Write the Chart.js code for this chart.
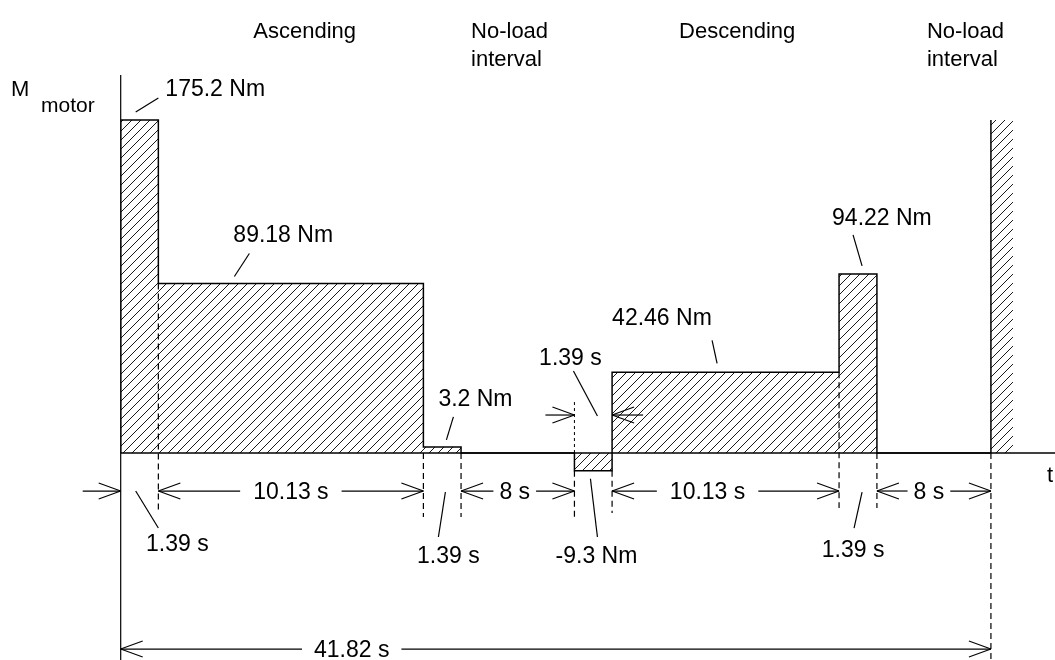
<!DOCTYPE html>
<html>
<head>
<meta charset="utf-8">
<script src="https://cdn.jsdelivr.net/npm/chart.js@4.4.1/dist/chart.umd.min.js"></script>
<style>
  html, body { margin: 0; padding: 0; background: #fff; }
  #wrap { width: 1055px; height: 660px; }
</style>
</head>
<body>
<div id="wrap"><canvas id="torqueChart"></canvas></div>
<script>
// Step edges on a schematic time axis (the drawing is not to scale)
const edges = [0, 1.81, 14.55, 16.36, 21.81, 23.62, 34.53, 36.35, 41.83];
// Motor torque in each interval (Nm)
const torque = [175.2, 89.18, 3.2, 0, -9.3, 42.46, 94.22, 0];
const torqueLabels = ['175.2 Nm', '89.18 Nm', '3.2 Nm', '', '-9.3 Nm', '42.46 Nm', '94.22 Nm', ''];
const durations = ['1.39 s', '10.13 s', '1.39 s', '8 s', '1.39 s', '10.13 s', '1.39 s', '8 s'];
const phases = ['Ascending', 'No-load interval', 'Descending', 'No-load interval'];
const cycleLabel = '41.82 s';
// start of the next cycle, cut at the right edge
const nextCycle = [41.83, 42.89];

const FONT = '23px "Liberation Sans", Arial, sans-serif';
const FONT_S = '22px "Liberation Sans", Arial, sans-serif';

const canvas = document.getElementById('torqueChart');

// diagonal hatch like the original drawing
const makeHatch = () => {
  const s = 9;
  const c = document.createElement('canvas');
  c.width = c.height = s;
  const g = c.getContext('2d');
  g.strokeStyle = '#1a1a1a';
  g.lineWidth = 1;
  g.beginPath();
  g.moveTo(-1, s + 1); g.lineTo(s + 1, -1);
  g.moveTo(-1, 1); g.lineTo(1, -1);
  g.moveTo(s - 1, s + 1); g.lineTo(s + 1, s - 1);
  g.stroke();
  return canvas.getContext('2d').createPattern(c, 'repeat');
};
const hatch = makeHatch();

// closed step outline for one cycle
const profile = [{ x: edges[0], y: 0 }];
torque.forEach((v, i) => profile.push({ x: edges[i], y: v }));
profile.push({ x: edges[edges.length - 1], y: 0 });

const repeat = [
  { x: nextCycle[0], y: 0 },
  { x: nextCycle[0], y: torque[0] },
  { x: nextCycle[1], y: torque[0] },
  { x: nextCycle[1], y: 0 }
];

// drawing helpers
const line = (ctx, x1, y1, x2, y2, dash = [], w = 1.2) => {
  ctx.save();
  ctx.setLineDash(dash);
  ctx.lineWidth = w;
  ctx.strokeStyle = '#000';
  ctx.beginPath();
  ctx.moveTo(x1, y1);
  ctx.lineTo(x2, y2);
  ctx.stroke();
  ctx.restore();
};
// open arrow head, dir = 1 points right, -1 points left
const head = (ctx, tx, ty, dir) => {
  line(ctx, tx - dir * 22, ty - 8, tx, ty);
  line(ctx, tx - dir * 22, ty + 8, tx, ty);
};
const text = (ctx, str, x, y, align = 'center', font = FONT) => {
  ctx.save();
  ctx.font = font;
  ctx.fillStyle = '#000';
  ctx.textAlign = align;
  ctx.textBaseline = 'alphabetic';
  ctx.fillText(str, x, y);
  ctx.restore();
};
// dimension line |<-- label -->|
const dim = (ctx, xa, xb, yy, label, cx, pad) => {
  ctx.save();
  ctx.font = FONT;
  const w = ctx.measureText(label).width;
  ctx.restore();
  line(ctx, xa, yy, cx - w / 2 - pad, yy);
  line(ctx, cx + w / 2 + pad, yy, xb, yy);
  head(ctx, xa, yy, -1);
  head(ctx, xb, yy, 1);
  text(ctx, label, cx, yy + 8);
};

const annotate = {
  id: 'annotate',
  afterDatasetsDraw(chart) {
    const { ctx, chartArea, scales: { x, y } } = chart;
    const px = edges.map(e => x.getPixelForValue(e));
    const yv = torque.map(v => y.getPixelForValue(v));
    const y0 = y.getPixelForValue(0);
    const dl = y0 + 38;

    // axes
    line(ctx, px[0], chartArea.top, px[0], chartArea.bottom, [], 1.2);
    line(ctx, px[0], y0, chartArea.right, y0, [], 1.5);

    // extension lines
    const dash = [6, 4];
    line(ctx, px[1], yv[1], px[1], y0 + 60, dash);
    line(ctx, px[2], y0, px[2], y0 + 64, dash);
    line(ctx, px[3], y0, px[3], y0 + 64, dash);
    line(ctx, px[4], y0 - 51, px[4], y0, [3, 3], 1);
    line(ctx, px[4], yv[4], px[4], y0 + 65, dash);
    line(ctx, px[5], yv[4], px[5], y0 + 60, dash);
    line(ctx, px[6], yv[5], px[6], y0 + 55, dash);
    line(ctx, px[7], y0, px[7], y0 + 55, dash);
    line(ctx, px[8], y0, px[8], chartArea.bottom, dash);

    // phase headings
    const phaseX = [px[1] + 95, px[3] + 10, px[5] + 67, px[7] + 50];
    phases.forEach((p, i) => {
      const parts = p.split(' ');
      text(ctx, parts[0], phaseX[i], 38, 'left', FONT_S);
      if (parts[1]) text(ctx, parts[1], phaseX[i], 66, 'left', FONT_S);
    });

    // axis names
    text(ctx, 'M', 11, 96, 'left', FONT_S);
    text(ctx, 'motor', 41, 112, 'left', '21px "Liberation Sans", Arial, sans-serif');
    text(ctx, 't', chartArea.right - 5, y0 + 29, 'center', FONT_S);

    // torque labels with leaders
    text(ctx, torqueLabels[0], px[1] + 7, yv[0] - 24, 'left');
    line(ctx, px[0] + 15, yv[0] - 8, px[1], yv[0] - 22);
    text(ctx, torqueLabels[1], px[1] + 75, yv[1] - 42, 'left');
    line(ctx, px[1] + 91, yv[1] - 30, px[1] + 76, yv[1] - 7);
    text(ctx, torqueLabels[2], px[2] + 15, yv[2] - 41, 'left');
    line(ctx, px[2] + 30, yv[2] - 30, px[2] + 23, yv[2] - 7);
    text(ctx, torqueLabels[5], px[5], yv[5] - 47, 'left');
    line(ctx, px[5] + 100, yv[5] - 32, px[5] + 105, yv[5] - 9);
    text(ctx, torqueLabels[6], px[6] - 7, yv[6] - 49, 'left');
    line(ctx, px[6] + 14, yv[6] - 39, px[6] + 23, yv[6] - 8);
    text(ctx, torqueLabels[4], px[4] + 22, y0 + 110);
    line(ctx, px[4] + 16, yv[4] + 8, px[4] + 23, y0 + 84);

    // short interval between 8 s and 10.13 s, marked above the axis
    const ua = y0 - 38;
    line(ctx, px[4] - 29, ua, px[4], ua);
    head(ctx, px[4], ua, 1);
    line(ctx, px[5], ua, px[5] + 31, ua);
    head(ctx, px[5], ua, -1);
    text(ctx, durations[4], px[4] - 4, y0 - 88);
    line(ctx, px[4] - 1, y0 - 82, px[4] + 23, y0 - 37);

    // dimension lines below the axis
    line(ctx, px[0] - 38, dl, px[0], dl);
    head(ctx, px[0], dl, 1);
    dim(ctx, px[1], px[2], dl, durations[1], (px[1] + px[2]) / 2, 13);
    dim(ctx, px[3], px[4], dl, durations[3], (px[3] + px[4]) / 2 - 3, 6);
    dim(ctx, px[5], px[6], dl, durations[5], (px[5] + px[6]) / 2 - 18, 13);
    dim(ctx, px[7], px[8], dl, durations[7], (px[7] + px[8]) / 2 - 5, 6);

    // 1.39 s call-outs
    text(ctx, durations[0], px[1] + 19, y0 + 98);
    line(ctx, px[0] + 15, dl, px[1], y0 + 75);
    text(ctx, durations[2], px[2] + 25, y0 + 110);
    line(ctx, px[2] + 22, dl + 1, px[2] + 15, y0 + 84);
    text(ctx, durations[6], px[6] + 14, y0 + 104);
    line(ctx, px[6] + 23, dl + 1, px[6] + 15, y0 + 75);

    // whole cycle
    dim(ctx, px[0], px[8], y0 + 196, cycleLabel, px[0] + 231, 12);
  }
};

new Chart(canvas, {
  type: 'line',
  data: {
    datasets: [{
      data: profile,
      stepped: 'before',
      fill: 'origin',
      backgroundColor: hatch,
      borderColor: '#000',
      borderWidth: 1.5,
      pointRadius: 0
    }, {
      data: repeat,
      fill: 'origin',
      backgroundColor: hatch,
      borderWidth: 1.5,
      pointRadius: 0,
      segment: {
        borderColor: c => (c.p0DataIndex === 0 ? '#000' : 'rgba(0,0,0,0)')
      }
    }]
  },
  plugins: [annotate],
  options: {
    responsive: true,
    maintainAspectRatio: false,
    animation: false,
    layout: { padding: { top: 75, left: 120.7, right: 0, bottom: 0 } },
    scales: {
      x: { type: 'linear', min: 0, max: 44.91, display: false },
      y: { type: 'linear', min: -108.9, max: 198.9, display: false }
    },
    plugins: {
      legend: { display: false },
      tooltip: { enabled: false }
    }
  }
});
</script>
</body>
</html>
